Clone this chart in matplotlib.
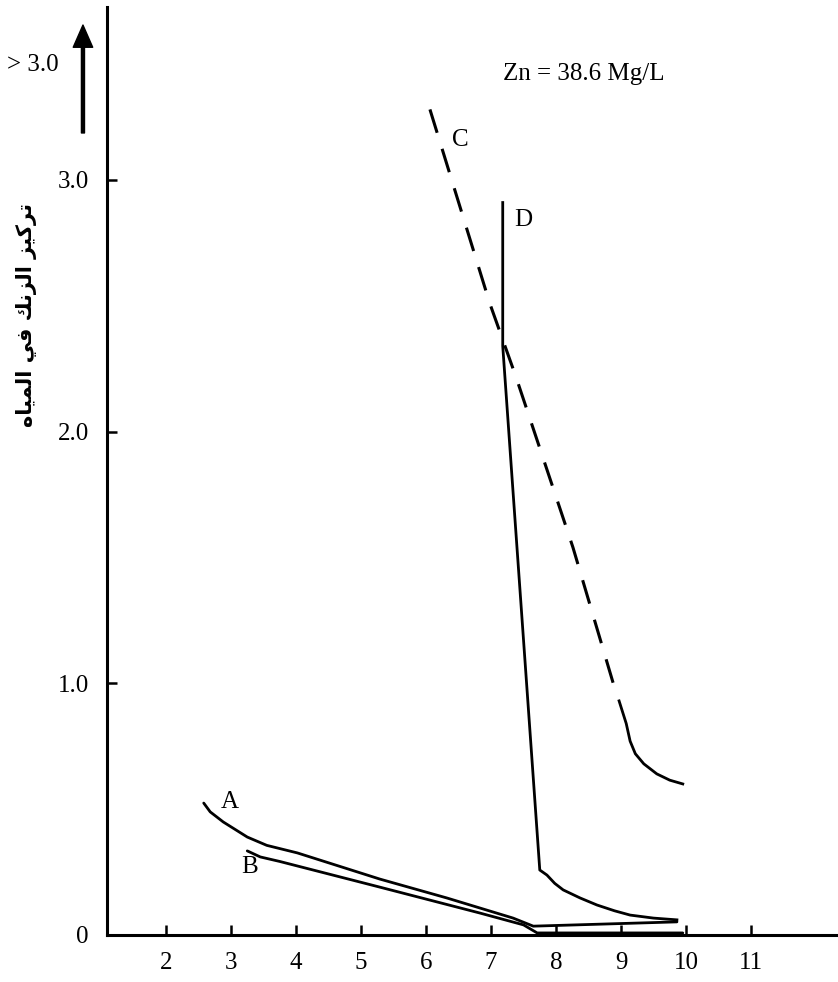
import matplotlib
matplotlib.use("Agg")
import matplotlib.pyplot as plt

# zinc in water vs pH, four curves
a_x = [2.58, 2.68, 2.88, 3.25, 3.55, 4.02, 5.29, 6.32, 7.34, 7.65, 9.86]
a_y = [0.524, 0.489, 0.449, 0.389, 0.356, 0.326, 0.222, 0.147, 0.067, 0.035, 0.052]

b_x = [3.25, 3.45, 3.75, 5.29, 6.83, 7.50, 7.71, 9.95]
b_y = [0.334, 0.31, 0.292, 0.19, 0.087, 0.04, 0.008, 0.008]

# C is dashed down to about 1.0, then solid
c_x = [6.06, 6.98, 7.38, 8.26, 8.88, 8.97, 9.08, 9.14, 9.22, 9.35, 9.55, 9.75, 9.95]
c_y = [3.28, 2.51, 2.22, 1.54, 1.00, 0.93, 0.84, 0.77, 0.72, 0.68, 0.64, 0.615, 0.60]
c_split = 5

d_x = [7.18, 7.18, 7.75, 7.86, 7.98, 8.11, 8.37, 8.63, 8.90, 9.14, 9.50, 9.86]
d_y = [2.91, 2.34, 0.258, 0.238, 0.205, 0.179, 0.147, 0.119, 0.096, 0.079, 0.067, 0.06]

x_ticks = [2, 3, 4, 5, 6, 7, 8, 9, 10, 11]
y_ticks = [0, 1, 2, 3]
y_tick_labels = ["0", "1.0", "2.0", "3.0"]

y_label = "تركيز الزنك في المياه"
note = "Zn = 38.6 Mg/L"

# --- tiny arabic shaper (matplotlib has no shaping / bidi) ---
FORMS = {
    # iso, fin, ini, med
    "ا": (0xFE8D, 0xFE8E, None, None),
    "ر": (0xFEAD, 0xFEAE, None, None),
    "ز": (0xFEAF, 0xFEB0, None, None),
    "ت": (0xFE95, 0xFE96, 0xFE97, 0xFE98),
    "ف": (0xFED1, 0xFED2, 0xFED3, 0xFED4),
    "ك": (0xFED9, 0xFEDA, 0xFEDB, 0xFEDC),
    "ل": (0xFEDD, 0xFEDE, 0xFEDF, 0xFEE0),
    "م": (0xFEE1, 0xFEE2, 0xFEE3, 0xFEE4),
    "ن": (0xFEE5, 0xFEE6, 0xFEE7, 0xFEE8),
    "ه": (0xFEE9, 0xFEEA, 0xFEEB, 0xFEEC),
    "ي": (0xFEF1, 0xFEF2, 0xFEF3, 0xFEF4),
}


def shape_arabic(s):
    out = []
    for i, ch in enumerate(s):
        if ch not in FORMS:
            out.append(ch)
            continue
        prev = s[i - 1] if i > 0 else " "
        nxt = s[i + 1] if i + 1 < len(s) else " "
        j_prev = prev in FORMS and FORMS[prev][2] is not None
        j_next = FORMS[ch][2] is not None and nxt in FORMS
        iso, fin, ini, med = FORMS[ch]
        if j_prev and j_next:
            cp = med
        elif j_prev:
            cp = fin
        elif j_next:
            cp = ini
        else:
            cp = iso
        out.append(chr(cp))
    return "".join(out)[::-1]


serif = "Liberation Serif"
fs = 18

fig = plt.figure(figsize=(8.38, 9.82), dpi=100)
ax = fig.add_axes([0.1277, 0.0479, 0.8723, 0.945])

lw = 2.0
ax.plot(a_x, a_y, color="black", lw=lw, clip_on=False, solid_capstyle="round")
ax.plot(b_x, b_y, color="black", lw=lw, clip_on=False, solid_capstyle="round")
ax.plot(c_x[:c_split], c_y[:c_split], color="black", lw=2.2,
        dashes=(8, 5.5), clip_on=False)
ax.plot(c_x[c_split:], c_y[c_split:], color="black", lw=lw, clip_on=False)
ax.plot(d_x, d_y, color="black", lw=lw, clip_on=False)

# curve letters
ax.text(2.98, 0.528, "A", fontsize=fs, family=serif, ha="center", va="center")
ax.text(3.29, 0.27, "B", fontsize=fs, family=serif, ha="center", va="center")
ax.text(6.52, 3.16, "C", fontsize=fs, family=serif, ha="center", va="center")
ax.text(7.49, 2.84, "D", fontsize=fs, family=serif, ha="center", va="center")
ax.text(8.42, 3.42, note, fontsize=fs, family=serif, ha="center", va="center")

ax.set_xlim(1.092, 12.338)
ax.set_ylim(0, 3.687)
ax.set_xticks(x_ticks)
ax.set_xticklabels([str(v) for v in x_ticks], family=serif, fontsize=fs)
ax.set_yticks(y_ticks)
ax.set_yticklabels(y_tick_labels, family=serif, fontsize=fs)
ax.tick_params(axis="both", direction="in", length=7, width=1.8)
ax.tick_params(axis="x", pad=12)
ax.tick_params(axis="y", pad=13)

for side in ["top", "right"]:
    ax.spines[side].set_visible(False)
for side in ["left", "bottom"]:
    ax.spines[side].set_linewidth(2.2)

# "> 3.0" with the upward arrow, outside the axes
fig.text(0.039, 0.934, "> 3.0", fontsize=fs, family=serif, ha="center", va="center")
ax.annotate("", xy=(0.099, 0.9745), xytext=(0.099, 0.8646),
            xycoords="figure fraction", textcoords="figure fraction",
            arrowprops=dict(width=2.2, headwidth=14, headlength=16,
                            facecolor="black", edgecolor="black", shrink=0))

fig.text(0.032, 0.679, shape_arabic(y_label), fontsize=15, fontweight="bold",
         family=["DejaVu Sans"], rotation=90, ha="center", va="center")

fig.savefig("out.png", dpi=100)
